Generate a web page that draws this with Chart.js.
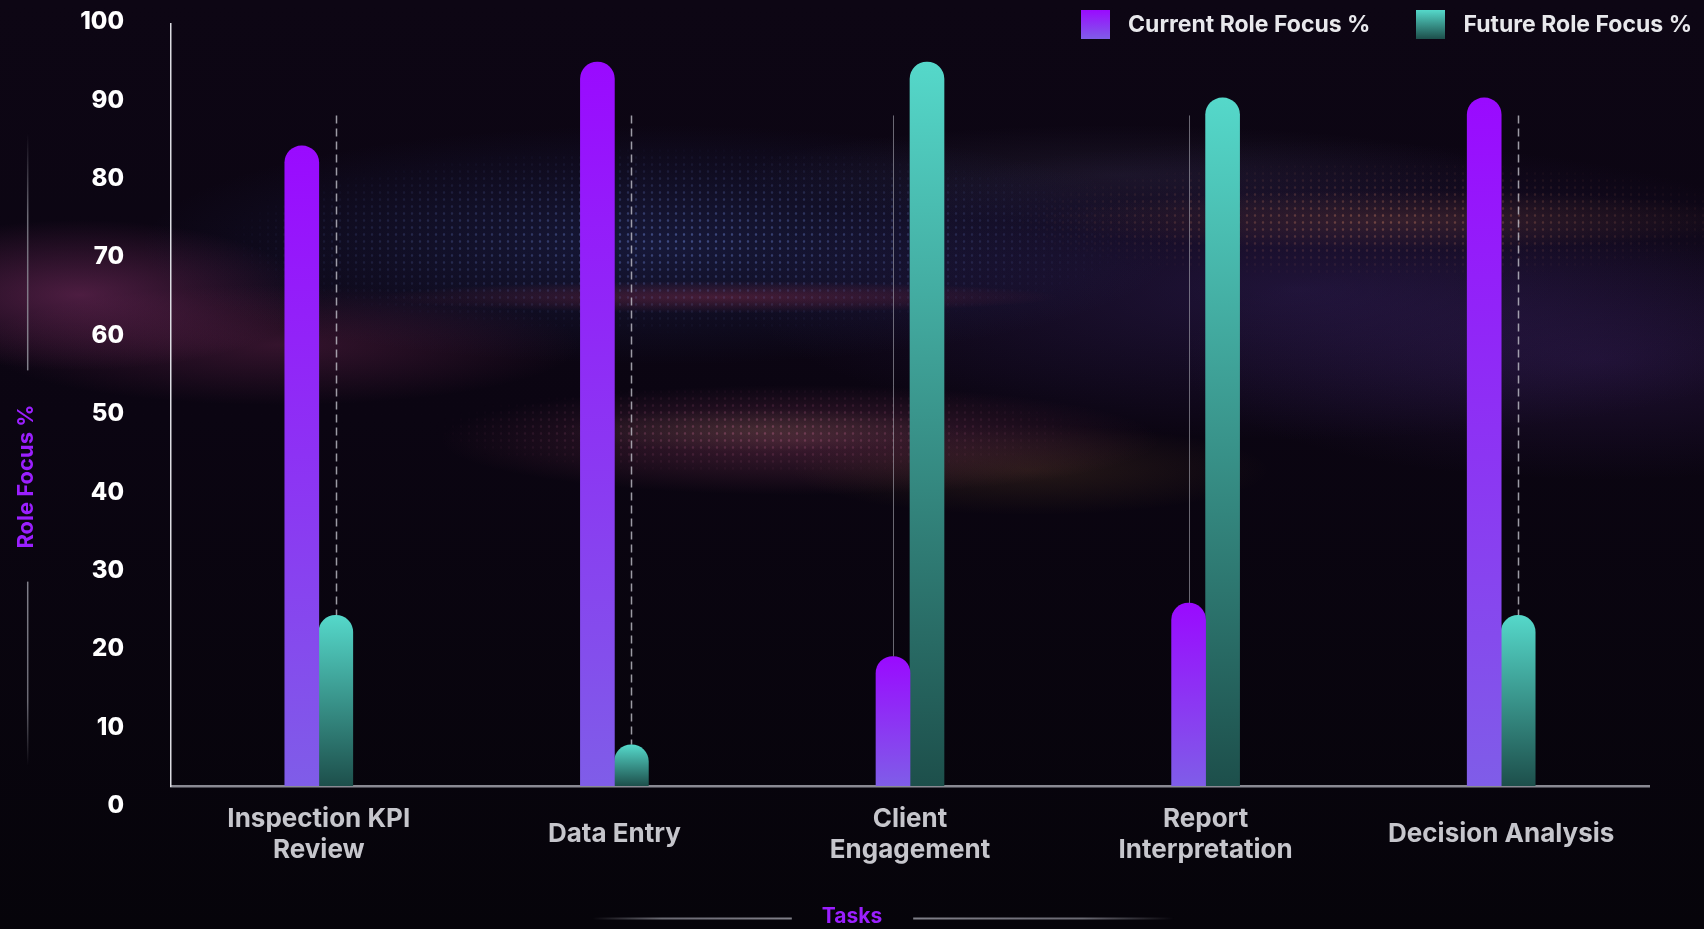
<!DOCTYPE html>
<html>
<head>
<meta charset="utf-8">
<script src="https://cdn.jsdelivr.net/npm/chart.js@4.4.1/dist/chart.umd.min.js"></script>
<style>
  html, body { margin: 0; padding: 0; background: #07040b; }
  #wrap {
    position: relative; width: 1704px; height: 929px; overflow: hidden;
    background:
      radial-gradient(ellipse 230px 75px at 80px 295px, rgba(175,65,135,0.40), transparent 100%),
      radial-gradient(ellipse 300px 60px at 280px 345px, rgba(170,60,120,0.26), transparent 100%),
      radial-gradient(ellipse 520px 120px at 660px 245px, rgba(60,90,190,0.22), transparent 100%),
      radial-gradient(ellipse 340px 16px at 720px 297px, rgba(210,55,75,0.30), transparent 100%),
      radial-gradient(ellipse 360px 55px at 800px 440px, rgba(185,80,120,0.30), transparent 100%),
      radial-gradient(ellipse 200px 22px at 760px 430px, rgba(150,170,90,0.16), transparent 100%),
      radial-gradient(ellipse 240px 45px at 1030px 470px, rgba(200,140,60,0.14), transparent 100%),
      radial-gradient(ellipse 560px 150px at 1300px 290px, rgba(90,60,165,0.26), transparent 100%),
      radial-gradient(ellipse 360px 30px at 1400px 220px, rgba(210,120,60,0.18), transparent 100%),
      radial-gradient(ellipse 380px 50px at 1120px 175px, rgba(140,140,190,0.10), transparent 100%),
      radial-gradient(ellipse 420px 120px at 1600px 360px, rgba(80,45,130,0.26), transparent 100%),
      linear-gradient(180deg, #0d0614 0%, #0b0512 45%, #06040a 100%);
  }
  .dots { position: absolute; left: 0; top: 0; width: 1704px; height: 929px; }
  #dotsBlue {
    background: radial-gradient(circle, rgba(130,160,255,0.55) 0.9px, transparent 1.6px) 0 0 / 8px 7px;
    -webkit-mask-image: radial-gradient(ellipse 460px 95px at 680px 240px, rgba(0,0,0,0.7), transparent 100%);
            mask-image: radial-gradient(ellipse 460px 95px at 680px 240px, rgba(0,0,0,0.7), transparent 100%);
  }
  #dotsWarm {
    background: radial-gradient(circle, rgba(240,150,110,0.55) 0.9px, transparent 1.6px) 3px 2px / 8px 7px;
    -webkit-mask-image: radial-gradient(ellipse 380px 60px at 1380px 220px, rgba(0,0,0,0.6), transparent 100%);
            mask-image: radial-gradient(ellipse 380px 60px at 1380px 220px, rgba(0,0,0,0.6), transparent 100%);
  }
  #dotsPink {
    background: radial-gradient(circle, rgba(230,120,170,0.5) 0.9px, transparent 1.6px) 1px 3px / 8px 7px;
    -webkit-mask-image: radial-gradient(ellipse 330px 45px at 760px 430px, rgba(0,0,0,0.6), transparent 100%);
            mask-image: radial-gradient(ellipse 330px 45px at 760px 430px, rgba(0,0,0,0.6), transparent 100%);
  }
  #c { position: absolute; left: 0; top: 0; }
  #legend {
    position: absolute; top: 10px; right: 12px;
    display: flex; gap: 46px; align-items: center;
    font: 700 23px Inter, "Noto Sans", sans-serif; color: #e8e8ec;
  }
  .li { display: flex; align-items: center; gap: 18px; line-height: 29px; }
  .sw { width: 29px; height: 29px; }
</style>
</head>
<body>
<div id="wrap">
  <div class="dots" id="dotsBlue"></div>
  <div class="dots" id="dotsWarm"></div>
  <div class="dots" id="dotsPink"></div>
  <canvas id="c" width="1704" height="929"></canvas>
  <div id="legend"></div>
</div>
<script>
// ---- data ----
const categories = [['Inspection KPI', 'Review'], 'Data Entry', ['Client', 'Engagement'], ['Report', 'Interpretation'], 'Decision Analysis'];
const currentFocus = [84, 95, 17, 24, 90.3];
const futureFocus = [22.4, 5.4, 95, 90.3, 22.4];
const yTickValues = [0, 10, 20, 30, 40, 50, 60, 70, 80, 90, 100];
const seriesNames = ['Current Role Focus %', 'Future Role Focus %'];
const guideTop = 88;

// ---- styles ----
const curTop = '#9a0aff', curBottom = '#7f5de8';
const futTop = '#55d8ca', futBottom = '#1d4f4b';
const purple = '#9b1fff';
const FONT = 'Inter, "Noto Sans", sans-serif';

function barFill(top, bottom) {
  return function (ctx) {
    const chart = ctx.chart;
    if (!chart.chartArea || ctx.type !== 'data') return top;
    const ys = chart.scales.y;
    const yTop = ys.getPixelForValue(ctx.raw);
    const yBot = ys.getPixelForValue(0);
    if (!isFinite(yTop) || !isFinite(yBot) || yTop === yBot) return top;
    const g = chart.ctx.createLinearGradient(0, yTop, 0, yBot);
    g.addColorStop(0, top);
    g.addColorStop(1, bottom);
    return g;
  };
}

const dropLines = {
  id: 'dropLines',
  beforeDatasetsDraw(chart) {
    const ctx = chart.ctx;
    const ys = chart.scales.y;
    const m0 = chart.getDatasetMeta(0), m1 = chart.getDatasetMeta(1);
    const yStart = ys.getPixelForValue(guideTop);
    ctx.save();
    currentFocus.forEach((c, i) => {
      const f = futureFocus[i];
      const decrease = f < c;
      const el = decrease ? m1.data[i] : m0.data[i];
      ctx.beginPath();
      if (decrease) {
        ctx.setLineDash([8, 5]);
        ctx.strokeStyle = 'rgba(205,205,215,0.75)';
        ctx.lineWidth = 1.5;
      } else {
        ctx.setLineDash([]);
        ctx.strokeStyle = 'rgba(170,170,180,0.6)';
        ctx.lineWidth = 1;
      }
      ctx.moveTo(Math.round(el.x) + 0.5, yStart);
      ctx.lineTo(Math.round(el.x) + 0.5, el.y);
      ctx.stroke();
    });
    ctx.restore();
  }
};

function fadeLine(ctx, x1, y1, x2, y2, fadeAtStart) {
  const g = ctx.createLinearGradient(x1, y1, x2, y2);
  if (fadeAtStart) {
    g.addColorStop(0, 'rgba(140,140,150,0)');
    g.addColorStop(0.35, 'rgba(140,140,150,0.75)');
    g.addColorStop(1, 'rgba(150,150,160,0.85)');
  } else {
    g.addColorStop(0, 'rgba(150,150,160,0.85)');
    g.addColorStop(0.65, 'rgba(140,140,150,0.75)');
    g.addColorStop(1, 'rgba(140,140,150,0)');
  }
  ctx.strokeStyle = g;
  ctx.beginPath();
  ctx.moveTo(x1, y1);
  ctx.lineTo(x2, y2);
  ctx.stroke();
}

const titleRules = {
  id: 'titleRules',
  afterDraw(chart) {
    const ctx = chart.ctx;
    ctx.save();
    const tb = chart.titleBlock;
    if (tb) {
      const f = Chart.helpers.toFont(chart.options.plugins.title.font);
      ctx.font = f.string;
      const w = ctx.measureText(chart.options.plugins.title.text).width;
      const cx = (tb.left + tb.right) / 2;
      const cy = tb.top + 8 + f.lineHeight / 2 + 2;
      ctx.lineWidth = 2;
      fadeLine(ctx, cx - w / 2 - 230, cy, cx - w / 2 - 30, cy, true);
      fadeLine(ctx, cx + w / 2 + 31, cy, cx + w / 2 + 292, cy, false);
    }
    const sopt = chart.options.plugins.subtitle;
    const sf = Chart.helpers.toFont(sopt.font);
    ctx.font = sf.string;
    const sw = ctx.measureText(sopt.text).width;
    const sx = 13 + sf.lineHeight / 2 + 1.5;
    const area = chart.chartArea;
    const scy = (area.top + chart.height) / 2;
    ctx.lineWidth = 1.5;
    fadeLine(ctx, sx, area.top + 109, sx, scy - sw / 2 - 34, true);
    fadeLine(ctx, sx, scy + sw / 2 + 33, sx, area.bottom - 20, false);
    ctx.restore();
  }
};

const chart = new Chart(document.getElementById('c'), {
  type: 'bar',
  data: {
    labels: categories,
    datasets: [
      { label: seriesNames[0], data: currentFocus, backgroundColor: barFill(curTop, curBottom),
        swatch: [curTop, curBottom] },
      { label: seriesNames[1], data: futureFocus, backgroundColor: barFill(futTop, futBottom),
        swatch: [futTop, futBottom] }
    ]
  },
  options: {
    responsive: false,
    animation: false,
    layout: { padding: { top: 24, left: 0, right: 0, bottom: 0 } },
    datasets: {
      bar: {
        barThickness: 34,
        borderRadius: { topLeft: 17, topRight: 17, bottomLeft: 0, bottomRight: 0 },
        borderSkipped: 'bottom'
      }
    },
    scales: {
      x: {
        type: 'category',
        grid: { display: false },
        border: { display: true, color: '#8a8a93', width: 2.5 },
        ticks: {
          color: '#c6c6cc',
          font: { family: FONT, size: 26, weight: '700', lineHeight: 1.2 },
          padding: 25,
          crossAlign: 'center',
          maxRotation: 0,
          autoSkip: false
        },
        afterFit: s => { s.height = 109.8; s.paddingLeft = 0; s.paddingRight = 0; }
      },
      y: {
        type: 'linear', position: 'left', weight: 0,
        min: 0, max: 100,
        grid: { display: false },
        border: { display: true, color: '#dcdce2', width: 1.5 },
        ticks: { display: false },
        afterFit: s => { s.width = 0; s.paddingTop = 0; s.paddingBottom = 0; }
      },
      yl: {
        type: 'linear', position: 'left', weight: 1,
        min: 2.55, max: 99.74,
        grid: { display: false },
        border: { display: false },
        ticks: {
          color: '#ffffff',
          font: { family: FONT, size: 24, weight: '800' },
          padding: 39,
          autoSkip: false
        },
        afterBuildTicks: s => { s.ticks = yTickValues.map(v => ({ value: v })); },
        afterFit: s => { s.width = 127.6; s.paddingTop = 0; s.paddingBottom = 0; }
      },
      yr: {
        type: 'linear', position: 'right',
        grid: { display: false },
        border: { display: false },
        ticks: { display: false },
        afterFit: s => { s.width = 55; s.paddingTop = 0; s.paddingBottom = 0; }
      }
    },
    plugins: {
      legend: { display: false },
      tooltip: { enabled: false },
      title: {
        display: true, position: 'bottom', text: 'Tasks', color: purple,
        font: { family: FONT, size: 21, weight: '700', lineHeight: 1.2 },
        padding: { top: 8, bottom: 0 }
      },
      subtitle: {
        display: true, position: 'left', text: 'Role Focus %', color: purple,
        font: { family: FONT, size: 22, weight: '700', lineHeight: 1.2 },
        padding: { top: 13, bottom: 4 }
      }
    }
  },
  plugins: [dropLines, titleRules]
});

const legendEl = document.getElementById('legend');
chart.data.datasets.forEach(ds => {
  const item = document.createElement('div');
  item.className = 'li';
  const sw = document.createElement('span');
  sw.className = 'sw';
  sw.style.background = 'linear-gradient(180deg,' + ds.swatch[0] + ',' + ds.swatch[1] + ')';
  const tx = document.createElement('span');
  tx.textContent = ds.label;
  item.appendChild(sw);
  item.appendChild(tx);
  legendEl.appendChild(item);
});
</script>
</body>
</html>
